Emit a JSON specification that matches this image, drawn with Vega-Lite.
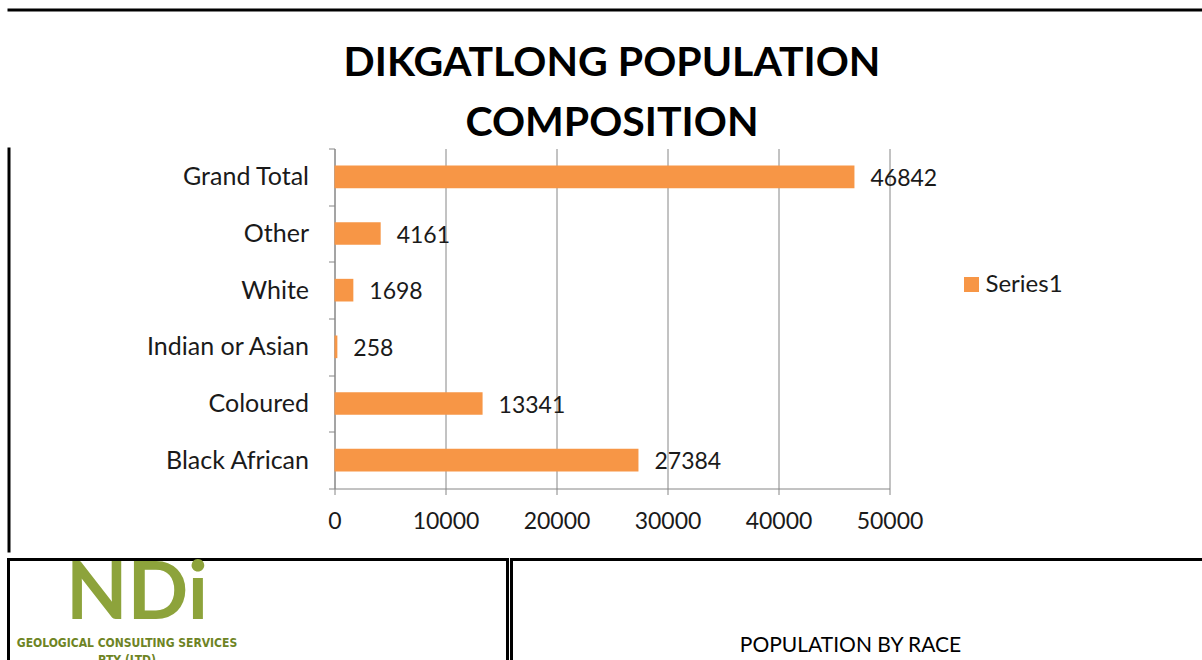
{
  "$schema": "https://vega.github.io/schema/vega-lite/v6.json",
  "background": "white",
  "padding": {"left": 6.5, "top": 8.5, "right": 0, "bottom": 0},
  "columns": 1,
  "spacing": 0,
  "concat": [
    {
      "width": 1199,
      "height": 1,
      "view": {"stroke": "black", "strokeWidth": 2},
      "title": {"text": " ", "orient": "bottom", "offset": 21, "fontSize": 10},
      "data": {"values": []},
      "mark": {"type": "point", "opacity": 0},
      "encoding": {}
    },
    {
      "spacing": 24,
      "resolve": {"legend": {"color": "independent"}},
      "hconcat": [
        {
          "width": 1,
          "height": 403,
          "view": {"stroke": "black", "strokeWidth": 2},
          "data": {"values": []},
          "mark": {"type": "point", "opacity": 0},
          "encoding": {}
        },
        {
          "width": 555,
          "height": 340,
          "view": {"stroke": null},
          "title": {
            "text": ["DIKGATLONG POPULATION", "COMPOSITION"],
            "font": "Lato",
            "fontSize": 41,
            "fontWeight": "bold",
            "lineHeight": 60,
            "color": "black",
            "anchor": "middle",
            "offset": -8
          },
          "data": {
            "values": [
              {"race": "Grand Total", "population": 46842, "series": "Series1"},
              {"race": "Other", "population": 4161, "series": "Series1"},
              {"race": "White", "population": 1698, "series": "Series1"},
              {"race": "Indian or Asian", "population": 258, "series": "Series1"},
              {"race": "Coloured", "population": 13341, "series": "Series1"},
              {"race": "Black African", "population": 27384, "series": "Series1"}
            ]
          },
          "encoding": {
            "y": {
              "field": "race",
              "type": "nominal",
              "sort": null,
              "scale": {"paddingInner": 0, "paddingOuter": 0},
              "axis": {
                "title": null,
                "tickBand": "extent",
                "tickSize": 6,
                "labelPadding": 20,
                "labelFont": "Lato",
                "labelFontSize": 25,
                "labelColor": "#1a1a1a",
                "labelLimit": 400,
                "domainColor": "#868686",
                "tickColor": "#868686",
                "grid": false,
                "minExtent": 300
              }
            },
            "x": {
              "field": "population",
              "type": "quantitative",
              "scale": {"domain": [0, 50000], "nice": false},
              "axis": {
                "title": null,
                "values": [0, 10000, 20000, 30000, 40000, 50000],
                "format": "d",
                "grid": true,
                "gridColor": "#868686",
                "tickSize": 6,
                "labelPadding": 16,
                "labelFont": "Lato",
                "labelFontSize": 23,
                "labelColor": "#1a1a1a",
                "labelFlush": false,
                "domainColor": "#868686",
                "tickColor": "#868686"
              }
            }
          },
          "layer": [
            {
              "mark": {"type": "bar", "height": {"band": 0.4}},
              "encoding": {
                "color": {
                  "field": "series",
                  "type": "nominal",
                  "scale": {"range": ["#F79646"]},
                  "legend": {
                    "title": null,
                    "orient": "none",
                    "legendX": 625,
                    "legendY": 124,
                    "symbolType": "square",
                    "symbolSize": 225,
                    "symbolStrokeWidth": 0,
                    "labelFont": "Lato",
                    "labelFontSize": 24,
                    "labelColor": "#1a1a1a",
                    "labelOffset": 2
                  }
                }
              }
            },
            {
              "mark": {"type": "text", "align": "left", "baseline": "middle", "dx": 16, "dy": 2, "font": "Lato", "fontSize": 23, "color": "#1a1a1a"},
              "encoding": {"text": {"field": "population", "type": "quantitative", "format": "d"}}
            }
          ]
        }
      ]
    },
    {
      "spacing": 0,
      "hconcat": [
        {
          "width": 499,
          "height": 110,
          "view": {"stroke": "black", "strokeWidth": 3},
          "data": {"values": [{}]},
          "layer": [
            {
              "mark": {"type": "text", "text": "NDi", "font": "Lato", "fontSize": 80, "fontWeight": "bold", "color": "#8DA33B", "dx": -121, "dy": -20},
              "encoding": {}
            },
            {
              "mark": {"type": "text", "text": "GEOLOGICAL CONSULTING SERVICES", "font": "DejaVu Sans Condensed", "fontSize": 12, "fontWeight": "bold", "color": "#6E8424", "dx": -131, "dy": 28},
              "encoding": {}
            },
            {
              "mark": {"type": "text", "text": "PTY (LTD)", "font": "DejaVu Sans Condensed", "fontSize": 12, "fontWeight": "bold", "color": "#6E8424", "dx": -131, "dy": 45},
              "encoding": {}
            }
          ]
        },
        {
          "width": 700,
          "height": 110,
          "view": {"stroke": "black", "strokeWidth": 3},
          "data": {"values": [{}]},
          "mark": {"type": "text", "text": "POPULATION BY RACE", "font": "Lato", "fontSize": 21, "color": "black", "dx": -11, "dy": 31},
          "encoding": {}
        }
      ]
    }
  ]
}
